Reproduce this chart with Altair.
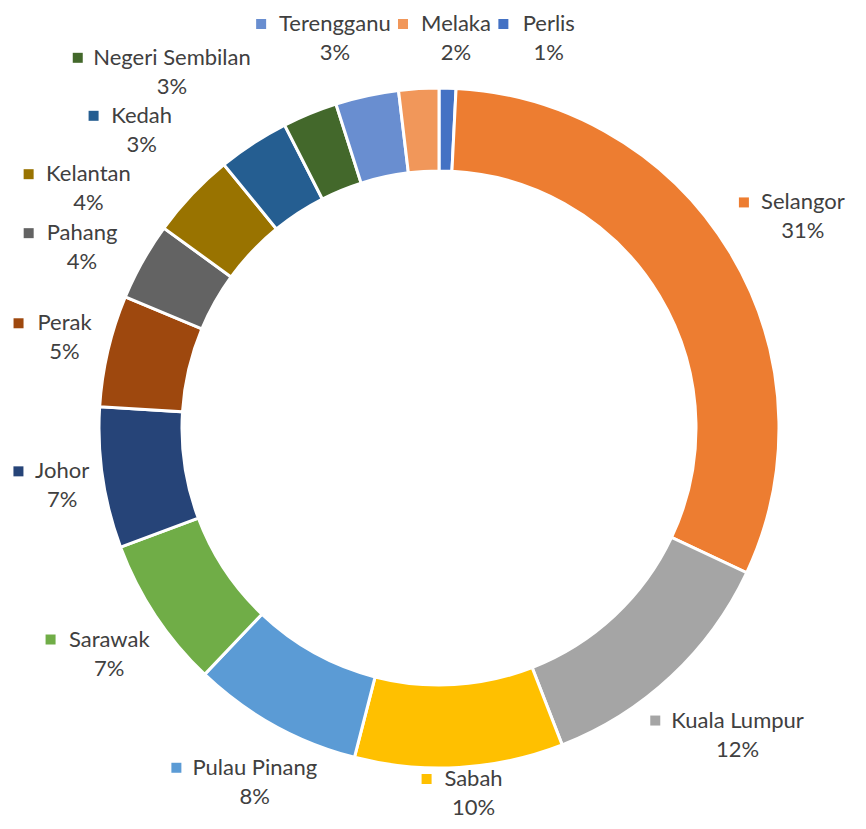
import math
import altair as alt
import pandas as pd

# ---- data ----
regions = ["Perlis", "Selangor", "Kuala Lumpur", "Sabah", "Pulau Pinang", "Sarawak",
           "Johor", "Perak", "Pahang", "Kelantan", "Kedah", "Negeri Sembilan",
           "Terengganu", "Melaka"]
shares = [0.8, 31.2, 12.1, 9.9, 8.1, 7.2, 6.7, 5.3, 3.7, 4.1, 3.4, 2.6, 3.0, 1.9]
colors = ["#4472C4", "#ED7D31", "#A5A5A5", "#FFC000", "#5B9BD5", "#70AD47",
          "#264478", "#9E480E", "#636363", "#997300", "#255E91", "#43682B",
          "#698ED0", "#F1975A"]

# ---- layout constants ----
W, H = 850, 813
CX, CY = 431, 420
R_OUT, R_IN = 340, 257
FS = 22
LINE = 29
GAP = 14
FONT = "Lato"
TEXT_COLOR = "#404040"

CHAR_EM = {"i": 0.23, "l": 0.23, "j": 0.23, "r": 0.35, "t": 0.33, "f": 0.3, " ": 0.23,
           "m": 0.78, "w": 0.72, "J": 0.36, "I": 0.28, "M": 0.82, "N": 0.72, "K": 0.6,
           "P": 0.57, "S": 0.5, "T": 0.55, "L": 0.5}


def text_width(s):
    return FS * sum(CHAR_EM.get(ch, 0.62 if ch.isupper() else 0.51) for ch in s)


n = len(regions)
mids = []
cum = 0.0
total = sum(shares)
for s in shares:
    mids.append((cum + s / 2) / total * 2 * math.pi)
    cum += s

widths = [text_width(r) for r in regions]
hw = [(w + 24) / 2 for w in widths]
hh = 23
PAD_X, PAD_Y = 8, 12
TOP_MIN = 16 + LINE / 2          # keeps the name line inside the drawing
BOT_MAX = H - 13 - LINE / 2      # keeps the percent line inside the drawing


def centre(i, a, extra):
    s, c = math.sin(a), math.cos(a)
    target = R_OUT + GAP + extra
    lo, hi = 0.0, 900.0
    for _ in range(40):
        d = (lo + hi) / 2
        bx, by = abs(d * s), abs(d * c)
        dist = math.hypot(max(0.0, bx - hw[i]), max(0.0, by - hh))
        if dist < target:
            lo = d
        else:
            hi = d
    x, y = CX + hi * s, CY - hi * c
    y = min(max(y, TOP_MIN), BOT_MAX)
    x = min(max(x, hw[i] + 2), W - hw[i] - 2)
    return x, y


ang = mids[:]
ext = [0.0] * n
for _ in range(8000):
    moved = False
    for i in range(n):
        for k in (1, 2):
            j = (i + k) % n
            xi, yi = centre(i, ang[i], ext[i])
            xj, yj = centre(j, ang[j], ext[j])
            if abs(xi - xj) < hw[i] + hw[j] + PAD_X and abs(yi - yj) < 2 * hh + PAD_Y:
                ang[i] -= 0.0023
                ang[j] += 0.0017
                ext[i] = min(ext[i] + 0.2, 30)
                ext[j] = min(ext[j] + 0.2, 30)
                moved = True
    if not moved:
        break

rows = []
for i in range(n):
    bx, by = centre(i, ang[i], ext[i])
    nx = bx + 12
    rows.append({
        "region": regions[i],
        "share": shares[i],
        "idx": i,
        "pct": f"{int(shares[i] + 0.5)}%",
        "name_x": nx,
        "name_y": by - LINE / 2,
        "pct_y": by + LINE / 2,
        "mark_x": nx - widths[i] / 2 - 19,
    })
df = pd.DataFrame(rows)

color_scale = alt.Scale(domain=regions, range=colors)
xs = alt.Scale(domain=[0, W], range=[0, W], nice=False, zero=False)
ys = alt.Scale(domain=[0, H], range=[0, H], nice=False, zero=False)

base = alt.Chart(df)

arcs = base.mark_arc(outerRadius=R_OUT, innerRadius=R_IN, stroke="white",
                     strokeWidth=3).encode(
    theta=alt.Theta("share:Q", stack=True),
    order=alt.Order("idx:Q"),
    color=alt.Color("region:N", scale=color_scale, legend=None),
    x=alt.value(CX),
    y=alt.value(CY),
)

markers = base.mark_square(size=100, opacity=1).encode(
    x=alt.X("mark_x:Q", scale=xs, axis=None),
    y=alt.Y("name_y:Q", scale=ys, axis=None),
    color=alt.Color("region:N", scale=color_scale, legend=None),
)

names = base.mark_text(font=FONT, fontSize=FS, color=TEXT_COLOR, align="center",
                       baseline="middle").encode(
    x=alt.X("name_x:Q", scale=xs, axis=None),
    y=alt.Y("name_y:Q", scale=ys, axis=None),
    text="region:N",
)

pcts = base.mark_text(font=FONT, fontSize=FS, color=TEXT_COLOR, align="center",
                      baseline="middle").encode(
    x=alt.X("name_x:Q", scale=xs, axis=None),
    y=alt.Y("pct_y:Q", scale=ys, axis=None),
    text="pct:N",
)

chart = alt.layer(arcs, markers, names, pcts).properties(
    width=W, height=H, autosize=alt.AutoSizeParams(type="none"), padding=0,
    background="white",
).configure_view(stroke=None)

chart.save("out.html", embed_options={"renderer": "svg", "actions": False})
